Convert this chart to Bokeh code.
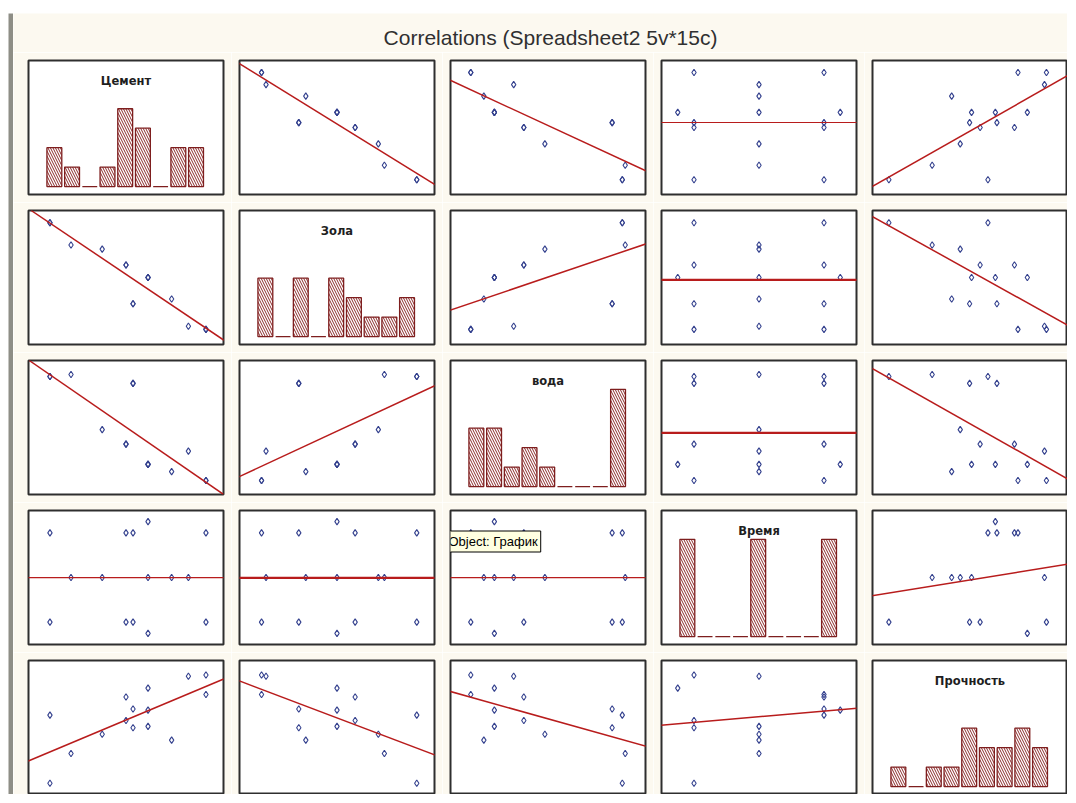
import numpy as np
from bokeh.plotting import figure
from bokeh.models import Range1d, Slope, Label, Spacer
from bokeh.layouts import row, column
from bokeh.embed import file_html
from bokeh.resources import INLINE

# ---------------- data (15 cases, 5 variables) ----------------
var_names = ["Цемент", "Зола", "вода", "Время", "Прочность"]

cement = [432, 432, 350, 350, 357.2, 357.2, 272, 272, 372.6, 372.6, 372.6, 414, 396.8, 325.6, 293.6]
zola = [22.6, 22.6, 118.6, 118.6, 60.8, 60.8, 181.8, 181.8, 100, 100, 100, 27.2, 68, 142.4, 148.6]
voda = [160.4, 160.4, 187.6, 187.6, 232.9, 232.9, 238.1, 238.1, 172.5, 172.5, 172.5, 182.4, 167.1, 198.4, 239.6]
vremya = [25, 5, 25, 5, 25, 5, 25, 5, 27.5, 15, 2.5, 15, 15, 15, 15]
prochn = [47.3, 54.6, 46.4, 37.6, 41.9, 34.9, 39.6, 14.2, 41.5, 35.4, 49.7, 54.1, 30.3, 32.5, 25.3]

# axis ranges of each variable in the scatter panels
cement_range = [250, 450]
zola_range = [0, 200]
voda_range = [150, 250]
vremya_range = [0, 30]
prochn_range = [10, 60]

# histogram counts (9 bins each)
cement_hist = [2, 1, 0, 1, 4, 3, 0, 2, 2]
zola_hist = [3, 0, 3, 0, 3, 2, 1, 1, 2]
voda_hist = [3, 3, 1, 2, 1, 0, 0, 0, 5]
vremya_hist = [5, 0, 0, 0, 5, 0, 0, 0, 5]
prochn_hist = [1, 0, 1, 1, 3, 2, 2, 3, 2]

chart_title = "Correlations (Spreadsheet2 5v*15c)"
tooltip_text = "Object: График"

values = [cement, zola, voda, vremya, prochn]
ranges = [cement_range, zola_range, voda_range, vremya_range, prochn_range]
hists = [cement_hist, zola_hist, voda_hist, vremya_hist, prochn_hist]

# ---------------- styles ----------------
CREAM = "#FCF9F0"
FRAME = "#2E2E2E"
MAROON = "#7E1E1E"
LINE_RED = "#B81C1C"
POINT = "#34418E"
HIST_X = (-1.46, 9.55)
HIST_Y = (-0.41, 6.48)


def make_cell(w, h, bl, br, bt, bb, xr, yr):
    p = figure(width=w, height=h, x_range=Range1d(*xr), y_range=Range1d(*yr),
               toolbar_location=None, output_backend="svg", title=None,
               x_axis_location=None, y_axis_location=None,
               min_border_left=bl, min_border_right=br,
               min_border_top=bt, min_border_bottom=bb)
    p.grid.visible = False
    p.background_fill_color = "white"
    p.border_fill_color = CREAM
    p.outline_line_color = FRAME
    p.outline_line_width = 2
    return p


rows = []
for i in range(5):
    cells = []
    for j in range(5):
        w = 218 if j == 0 else (203 if j == 4 else 211)
        bl = 15 if j == 0 else 8
        br = 0 if j == 4 else 8
        h = 142 if i == 4 else 150
        bt = 8
        bb = 0 if i == 4 else 8
        if i == j:
            p = make_cell(w, h, bl, br, bt, bb, HIST_X, HIST_Y)
            bins = list(range(len(hists[i])))
            p.vbar(x=bins, top=hists[i], bottom=0, width=0.84,
                   fill_color="white", line_color=MAROON, line_width=1.3,
                   hatch_pattern="left_diagonal_line", hatch_color="#8A2A2A",
                   hatch_scale=5, hatch_weight=1)
            ytitle = HIST_Y[1] - 0.155 * (HIST_Y[1] - HIST_Y[0])
            p.add_layout(Label(x=(HIST_X[0] + HIST_X[1]) / 2, y=ytitle,
                               text=var_names[i], text_align="center",
                               text_baseline="middle", text_font="DejaVu Sans",
                               text_font_style="bold", text_font_size="11.5px",
                               text_color="#1E1E1E"))
        else:
            p = make_cell(w, h, bl, br, bt, bb, ranges[j], ranges[i])
            xs = np.array(values[j], dtype=float)
            ys = np.array(values[i], dtype=float)
            g, b = np.polyfit(xs, ys, 1)
            p.add_layout(Slope(gradient=float(g), y_intercept=float(b),
                               line_color=LINE_RED, line_width=1.5))
            p.scatter(xs, ys, marker="diamond", size=6.5, fill_color=None,
                      line_color=POINT, line_width=1.1)
            if i == 3 and j == 2:
                # tooltip box "Object: График"
                xr0, xr1 = ranges[j]
                yr0, yr1 = ranges[i]
                lx = xr0 - 5.0 / 195 * (xr1 - xr0)
                ly = yr1 - 31.0 / 134 * (yr1 - yr0)
                p.add_layout(Label(x=lx, y=ly, text=tooltip_text,
                                   text_align="left", text_baseline="middle",
                                   text_font="Liberation Sans", text_font_size="13px",
                                   text_color="black",
                                   background_fill_color="#FFFFE1",
                                   border_line_color="black", border_line_width=1,
                                   padding=3))
        cells.append(p)
    rows.append(row(*cells))

# title strip
tfig = figure(width=1054, height=39, x_range=Range1d(0, 1054), y_range=Range1d(0, 39),
              toolbar_location=None, output_backend="svg", title=None,
              x_axis_location=None, y_axis_location=None,
              min_border_left=0, min_border_right=0, min_border_top=0, min_border_bottom=0)
tfig.grid.visible = False
tfig.background_fill_color = CREAM
tfig.border_fill_color = CREAM
tfig.outline_line_color = None
tfig.add_layout(Label(x=537, y=15, text=chart_title, text_align="center",
                      text_baseline="middle", text_font="Liberation Sans",
                      text_font_size="21px", text_color="#303030"))

# gray window edge on the left
gbar = figure(width=5, height=781, x_range=Range1d(0, 1), y_range=Range1d(0, 1),
              toolbar_location=None, output_backend="svg", title=None,
              x_axis_location=None, y_axis_location=None,
              min_border_left=0, min_border_right=0, min_border_top=0, min_border_bottom=0)
gbar.grid.visible = False
gbar.background_fill_color = "#8E8E86"
gbar.border_fill_color = "#8E8E86"
gbar.outline_line_color = None

main = column(tfig, *rows)
root = column(Spacer(width=10, height=13), row(Spacer(width=8, height=10), gbar, main))

open("out.html", "w").write(file_html(root, INLINE, "Correlations"))
